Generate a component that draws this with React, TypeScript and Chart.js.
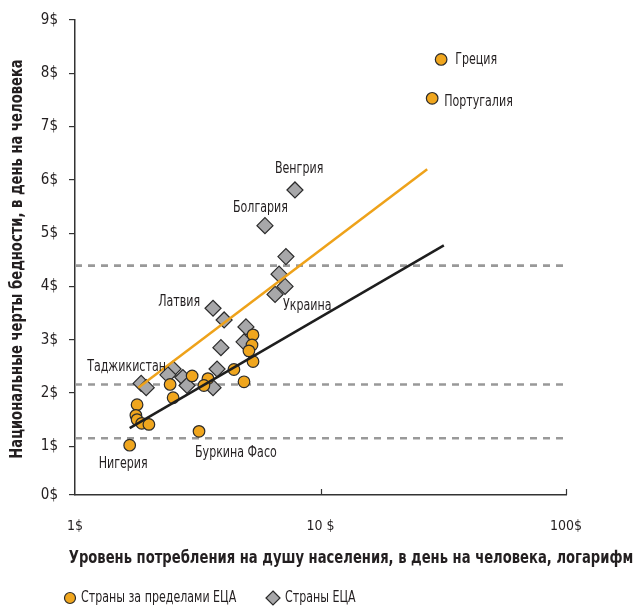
import React, { useEffect, useRef } from "react";
import { Chart, registerables } from "chart.js";

Chart.register(...registerables);

const FONT = '"Liberation Sans Narrow", "DejaVu Sans Condensed", "Arial Narrow", sans-serif';
const TEXT = "#231f20";

// Countries outside ECA (circles): consumption per capita ($/day, log) and national poverty line ($/day)
const outsideX = [31.0, 28.5, 5.31, 5.26, 5.11, 5.31, 4.44, 4.88, 3.48, 3.35, 3.0, 2.44, 2.51, 1.79, 1.77, 1.79, 1.87, 2.0, 1.67, 3.2];
const outsideY = [8.26, 7.53, 3.09, 2.9, 2.79, 2.59, 2.44, 2.21, 2.27, 2.14, 2.32, 2.16, 1.91, 1.78, 1.58, 1.5, 1.43, 1.41, 1.02, 1.28];

// ECA countries (diamonds)
const ecaX = [7.87, 5.94, 7.23, 6.78, 7.17, 6.53, 3.65, 4.05, 4.97, 4.88, 3.93, 3.79, 3.65, 2.75, 2.86, 2.51, 2.39, 1.86, 1.95];
const ecaY = [5.81, 5.14, 4.56, 4.23, 4.0, 3.85, 3.59, 3.37, 3.24, 2.96, 2.85, 2.45, 2.1, 2.29, 2.14, 2.45, 2.34, 2.18, 2.1];

// Trend lines (endpoints)
const ecaTrendX = [1.81, 27.2];
const ecaTrendY = [2.1, 6.2];
const outsideTrendX = [1.67, 31.8];
const outsideTrendY = [1.34, 4.77];

// Reference poverty lines (dashed)
const refLines = [1.15, 2.16, 4.39];
const refLineX = [1, 100];

// Axes
const Y_MIN = 0.085;
const yTickValues = [0, 1, 2, 3, 4, 5, 6, 7, 8, 9];
const yTickLabels = ["0$", "1$", "2$", "3$", "4$", "5$", "6$", "7$", "8$", "9$"];
const xTickValues = [1, 10, 100];
const xTickLabels = ["1$", "10 $", "100$"];

const yTitle = "Национальные черты бедности, в день на человека";
const xTitle = "Уровень потребления на душу населения, в день на человека, логарифм";
const legendOutside = "Страны за пределами ЕЦА";
const legendEca = "Страны ЕЦА";

// Country labels: text, series (0 = outside, 1 = ECA), point index
const labelTexts = ["Греция", "Португалия", "Венгрия", "Болгария", "Латвия", "Украина", "Таджикистан", "Нигерия", "Буркина Фасо"];
const labelSeries = [0, 0, 1, 1, 1, 1, 1, 0, 0];
const labelIndex = [0, 1, 0, 1, 6, 4, 16, 18, 19];
// Styling offsets for labels (pixels): dx, dy, align
const labelDx = [14, 12, -20, -32, -13, -2, -2, -31, -4];
const labelDy = [1, 4, -21, -18, -6, 20, -8, 19, 22];
const labelAlign: CanvasTextAlign[] = ["left", "left", "left", "left", "right", "left", "right", "left", "left"];

const ORANGE = "#f0a61e";
const GRAY = "#a7a7a9";
const EDGE = "#2b2b2b";
const CONDENSE = 0.82;
const CONDENSE_BOLD = 0.86;

const toPts = (xs: number[], ys: number[]) => xs.map((x, i) => ({ x, y: ys[i] }));

function drawText(ctx: CanvasRenderingContext2D, t: string, x: number, y: number, sx: number, align: CanvasTextAlign, rot = 0) {
  ctx.save();
  ctx.translate(x, y);
  if (rot) ctx.rotate(rot);
  ctx.scale(sx, 1);
  ctx.textAlign = align;
  ctx.fillText(t, 0, 0);
  ctx.restore();
}

const overlay = {
  id: "overlay",
  afterDatasetsDraw(chart: any) {
    const ctx: CanvasRenderingContext2D = chart.ctx;
    const xs = chart.scales.x;
    const ys = chart.scales.y;
    ctx.save();
    // inward x ticks
    ctx.strokeStyle = "#333";
    ctx.lineWidth = 1.2;
    [10, 100].forEach((v) => {
      const px = Math.round(xs.getPixelForValue(v)) + 0.5;
      ctx.beginPath();
      ctx.moveTo(px, ys.bottom);
      ctx.lineTo(px, ys.bottom - 6);
      ctx.stroke();
    });

    // country labels
    ctx.fillStyle = TEXT;
    ctx.font = `15px ${FONT}`;
    ctx.textBaseline = "middle";
    labelTexts.forEach((t, i) => {
      const meta = chart.getDatasetMeta(labelSeries[i]);
      const el = meta.data[labelIndex[i]];
      if (!el) return;
      drawText(ctx, t, el.x + labelDx[i], el.y + labelDy[i], CONDENSE, labelAlign[i]);
    });

    // axis titles
    ctx.font = `bold 17px ${FONT}`;
    drawText(ctx, yTitle, 18, 259, CONDENSE_BOLD, "center", -Math.PI / 2);
    drawText(ctx, xTitle, 351, 559, CONDENSE_BOLD, "center");

    // legend
    ctx.font = `15px ${FONT}`;
    ctx.lineWidth = 1.2;
    ctx.strokeStyle = EDGE;
    ctx.fillStyle = ORANGE;
    ctx.beginPath();
    ctx.arc(70, 598, 5.5, 0, Math.PI * 2);
    ctx.fill();
    ctx.stroke();
    ctx.fillStyle = TEXT;
    drawText(ctx, legendOutside, 81, 598, CONDENSE, "left");
    ctx.fillStyle = GRAY;
    ctx.beginPath();
    ctx.moveTo(273, 591);
    ctx.lineTo(280, 598);
    ctx.lineTo(273, 605);
    ctx.lineTo(266, 598);
    ctx.closePath();
    ctx.fill();
    ctx.stroke();
    ctx.fillStyle = TEXT;
    drawText(ctx, legendEca, 285, 598, CONDENSE, "left");
    ctx.restore();
  },
};

export default function App() {
  const ref = useRef<HTMLCanvasElement | null>(null);
  useEffect(() => {
    if (!ref.current) return;
    const dashed = refLines.map((v) => ({
      type: "scatter" as const,
      data: refLineX.map((x) => ({ x, y: v })),
      showLine: true,
      borderColor: "#999999",
      borderWidth: 2.6,
      borderDash: [7, 6],
      pointRadius: 0,
      order: 3,
    }));
    const chart = new Chart(ref.current, {
      type: "scatter",
      data: {
        datasets: [
          {
            label: legendOutside,
            data: toPts(outsideX, outsideY),
            pointStyle: "circle",
            pointRadius: 5.8,
            backgroundColor: ORANGE,
            borderColor: EDGE,
            borderWidth: 1.2,
            order: 2,
          },
          {
            label: legendEca,
            data: toPts(ecaX, ecaY),
            pointStyle: "rectRot",
            pointRadius: 8,
            backgroundColor: GRAY,
            borderColor: EDGE,
            borderWidth: 1.2,
            order: 2,
          },
          {
            data: toPts(ecaTrendX, ecaTrendY),
            showLine: true,
            borderColor: "#eea21a",
            borderWidth: 2.5,
            pointRadius: 0,
            order: 1,
          },
          {
            data: toPts(outsideTrendX, outsideTrendY),
            showLine: true,
            borderColor: "#1e1e1e",
            borderWidth: 2.5,
            pointRadius: 0,
            order: 1,
          },
          ...dashed,
        ] as any,
      },
      options: {
        responsive: false,
        animation: false,
        layout: { padding: { top: 17, right: 73, left: 0, bottom: 0 } },
        plugins: { legend: { display: false }, tooltip: { enabled: false } },
        scales: {
          x: {
            type: "logarithmic",
            min: 1,
            max: 100,
            afterFit: (s: any) => {
              s.height = 112;
            },
            afterBuildTicks: (s: any) => {
              s.ticks = xTickValues.map((v) => ({ value: v }));
            },
            grid: { display: true, drawOnChartArea: false, drawTicks: false },
            border: { display: true, color: "#333", width: 1.5 },
            ticks: {
              autoSkip: false,
              maxRotation: 0,
              padding: 23,
              color: TEXT,
              font: { family: FONT, size: 14 },
              callback: (_v: any, i: number) => xTickLabels[i],
            },
          },
          y: {
            type: "linear",
            min: Y_MIN,
            max: 9,
            afterFit: (s: any) => {
              s.width = 75;
            },
            afterBuildTicks: (s: any) => {
              s.ticks = yTickValues.map((v) => ({ value: Math.max(v, Y_MIN) }));
            },
            grid: { display: true, drawOnChartArea: false, drawTicks: true, tickLength: 6, color: "#333", lineWidth: 1.2 },
            border: { display: true, color: "#333", width: 1.5 },
            ticks: {
              autoSkip: false,
              padding: 11,
              color: TEXT,
              font: { family: FONT, size: 15 },
              callback: (_v: any, i: number) => yTickLabels[i],
            },
          },
        },
      },
      plugins: [overlay],
    });
    return () => chart.destroy();
  }, []);
  return (
    <div style={{ position: "absolute", left: 0, top: 0, width: 639, height: 607, background: "#fff" }}>
      <canvas ref={ref} width={639} height={607} style={{ display: "block" }} />
    </div>
  );
}
